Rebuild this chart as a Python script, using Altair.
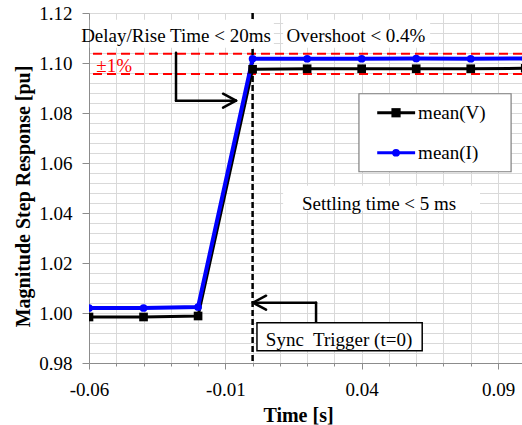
import altair as alt
import pandas as pd

# ---------------- data ----------------
time_s = [-0.06, -0.04, -0.02, 0.0, 0.02, 0.04, 0.06, 0.08, 0.10]
mean_v = [0.9984, 0.9984, 0.9988, 1.0975, 1.0977, 1.0977, 1.0977, 1.0977, 1.0979]
mean_i = [1.0020, 1.0020, 1.0024, 1.1017, 1.1017, 1.1017, 1.1018, 1.1017, 1.1018]
series_names = ["mean(V)", "mean(I)"]
x_major_ticks = [-0.06, -0.01, 0.04, 0.09]
y_major_ticks = [0.98, 1.00, 1.02, 1.04, 1.06, 1.08, 1.10, 1.12]
tolerance_band = [1.0956, 1.1037]
trigger_time = [0.0]

# ---------------- annotation geometry (data coordinates) ----------------
X_DOMAIN = [-0.06, 0.0988]
Y_DOMAIN = [0.98, 1.12]
x_grid = [round(-0.06 + 0.01 * k, 3) for k in range(16)]
y_grid = [round(0.98 + 0.004 * k, 3) for k in range(36)]

white_boxes = pd.DataFrame({
    "x": [-0.0597, 0.0112, 0.0112],
    "x2": [0.0078, 0.0651, 0.0834],
    "y": [1.1061, 1.1061, 1.0409],
    "y2": [1.1173, 1.1173, 1.0509],
})
notes = pd.DataFrame({
    "x": [-0.0281, 0.0379, 0.0464],
    "y": [1.1085, 1.1085, 1.0413],
    "label": ["Delay/Rise Time < 20ms", "Overshoot < 0.4%", "Settling time < 5 ms"],
})
sync_note = pd.DataFrame({"x": [0.0317], "y": [0.9867], "label": ["Sync\u00a0 Trigger (t=0)"]})
band_note = pd.DataFrame({"x": [-0.0508], "y": [1.0963], "label": ["±1%"]})
sync_box = pd.DataFrame({"x": [0.0016], "x2": [0.0622], "y": [0.9849], "y2": [0.9961]})
legend_box = pd.DataFrame({"x": [0.0390], "x2": [0.0948], "y": [1.0565], "y2": [1.0877]})
arrows = pd.DataFrame({
    "x":  [-0.02809, -0.02809, -0.00607, -0.00607, 0.02327, 0.02327, 0.00016, 0.00016],
    "x2": [-0.02809, -0.00607, -0.01084, -0.01084, 0.02327, 0.00016, 0.00493, 0.00493],
    "y":  [1.10412, 1.08492, 1.08492, 1.08492, 0.99612, 1.00412, 1.00412, 1.00412],
    "y2": [1.08492, 1.08492, 1.08772, 1.08212, 1.00412, 1.00412, 1.00692, 1.00132],
})
legend_rows = pd.DataFrame({
    "x": [0.0457, 0.0457], "x2": [0.0596, 0.0596], "xm": [0.0526, 0.0526],
    "xt": [0.0607, 0.0607], "y": [1.0801, 1.0641], "name": series_names,
})

FONT = "Liberation Serif"
GRID = "#d9d9d9"
AXC = "#8c8c8c"

xs = alt.Scale(domain=X_DOMAIN, nice=False, zero=False)
ys = alt.Scale(domain=Y_DOMAIN, nice=False, zero=False)

x_major_test = "abs((datum.value + 0.06) / 0.05 - round((datum.value + 0.06) / 0.05)) < 0.01"
y_major_test = "abs((datum.value - 0.98) / 0.02 - round((datum.value - 0.98) / 0.02)) < 0.01"

x_axis = alt.Axis(
    values=x_grid, grid=True, gridColor=GRID, gridWidth=1,
    domainColor=AXC, tickColor=AXC,
    tickSize={"condition": {"test": x_major_test, "value": 6}, "value": 3},
    labelExpr="(" + x_major_test + ") ? replace(format(datum.value, '.2f'), '\u2212', '-') : ''",
    labelFont=FONT, labelFontSize=19, labelColor="#000000", labelPadding=11,
    labelOverlap=False, labelFlush=False,
    title="Time [s]", titleFont=FONT, titleFontSize=20, titleFontWeight="bold",
    titleColor="#000000", titleX=209, titleY=58, titleAlign="center",
    titleBaseline="alphabetic",
)
y_axis = alt.Axis(
    values=y_grid, grid=True, gridColor=GRID, gridWidth=1,
    domainColor=AXC, tickColor=AXC, tickSize=7,
    tickOpacity={"condition": {"test": y_major_test, "value": 1}, "value": 0},
    labelExpr="(" + y_major_test + ") ? format(datum.value, '.2f') : ''",
    labelFont=FONT, labelFontSize=19, labelColor="#000000", labelPadding=10,
    labelOverlap=False,
    title="Magnitude Step Response [pu]", titleFont=FONT, titleFontSize=20,
    titleFontWeight="bold", titleColor="#000000", titleAngle=270,
    titleX=-60, titleY=183, titleAlign="center", titleBaseline="alphabetic",
)


def X(f):
    return alt.X(f, type="quantitative", scale=xs, axis=x_axis, title="Time [s]")


def Y(f):
    return alt.Y(f, type="quantitative", scale=ys, axis=y_axis,
                 title="Magnitude Step Response [pu]")


data_df = pd.DataFrame({"t": time_s, "V": mean_v, "I": mean_i})

band_rules = alt.Chart(pd.DataFrame({"y": tolerance_band})).mark_rule(
    color="#ff0000", strokeWidth=2, strokeDash=[9, 5]
).encode(y=Y("y"))

trigger_rule = alt.Chart(pd.DataFrame({"t": trigger_time})).mark_rule(
    color="#000000", strokeWidth=2.5, strokeDash=[6, 3]
).encode(x=X("t"))

boxes = alt.Chart(white_boxes).mark_rect(color="#ffffff").encode(
    x=X("x"), x2="x2", y=Y("y"), y2="y2"
)

sync_rect = alt.Chart(sync_box).mark_rect(
    fill="#ffffff", stroke="#000000", strokeWidth=1.5
).encode(x=X("x"), x2="x2", y=Y("y"), y2="y2")

legend_rect = alt.Chart(legend_box).mark_rect(
    fill="#ffffff", stroke="#7f7f7f", strokeWidth=1.2
).encode(x=X("x"), x2="x2", y=Y("y"), y2="y2")

note_text = alt.Chart(notes).mark_text(
    font=FONT, fontSize=19, align="center", baseline="alphabetic", color="#000000"
).encode(x=X("x"), y=Y("y"), text="label:N")

sync_text = alt.Chart(sync_note).mark_text(
    font=FONT, fontSize=19, align="center", baseline="alphabetic", color="#000000"
).encode(x=X("x"), y=Y("y"), text="label:N")

band_text = alt.Chart(band_note).mark_text(
    font=FONT, fontSize=19, align="center", baseline="alphabetic", color="#ff0000"
).encode(x=X("x"), y=Y("y"), text="label:N")

arrow_rules = alt.Chart(arrows).mark_rule(
    color="#000000", strokeWidth=2.5, strokeCap="round"
).encode(x=X("x"), x2="x2", y=Y("y"), y2="y2")

line_v = alt.Chart(data_df).mark_line(color="#000000", strokeWidth=3, clip=True).encode(
    x=X("t"), y=Y("V"))
line_i = alt.Chart(data_df).mark_line(color="#0000ff", strokeWidth=4, clip=True).encode(
    x=X("t"), y=Y("I"))
pts_v = alt.Chart(data_df).mark_point(
    shape="square", filled=True, size=75, color="#000000", opacity=1, clip=True
).encode(x=X("t"), y=Y("V"))
pts_i = alt.Chart(data_df).mark_point(
    shape="circle", filled=True, size=60, color="#0000ff", opacity=1, clip=True
).encode(x=X("t"), y=Y("I"))

leg_colors = alt.Scale(domain=series_names, range=["#000000", "#0000ff"])
leg_lines = alt.Chart(legend_rows).mark_rule(strokeWidth=3.2).encode(
    x=X("x"), x2="x2", y=Y("y"),
    color=alt.Color("name:N", scale=leg_colors, legend=None))
leg_sq = alt.Chart(legend_rows[legend_rows["name"] == series_names[0]]).mark_point(
    shape="square", filled=True, size=85, color="#000000", opacity=1
).encode(x=X("xm"), y=Y("y"))
leg_ci = alt.Chart(legend_rows[legend_rows["name"] == series_names[1]]).mark_point(
    shape="circle", filled=True, size=60, color="#0000ff", opacity=1
).encode(x=X("xm"), y=Y("y"))
leg_text = alt.Chart(legend_rows).mark_text(
    font=FONT, fontSize=19, align="left", baseline="middle", color="#000000"
).encode(x=X("xt"), y=Y("y"), text="name:N")

chart = alt.layer(
    band_rules, trigger_rule, boxes, note_text, band_text,
    line_v, line_i, pts_v, pts_i, arrow_rules, sync_rect, sync_text,
    legend_rect, leg_lines, leg_sq, leg_ci, leg_text,
).properties(
    width=433, height=350,
    autosize=alt.AutoSizeParams(type="none"),
    padding={"left": 89, "top": 13, "right": 0, "bottom": 62},
    background="#ffffff",
).configure_view(strokeWidth=0)

chart.save("out.html", embed_options={"renderer": "svg", "actions": False})
